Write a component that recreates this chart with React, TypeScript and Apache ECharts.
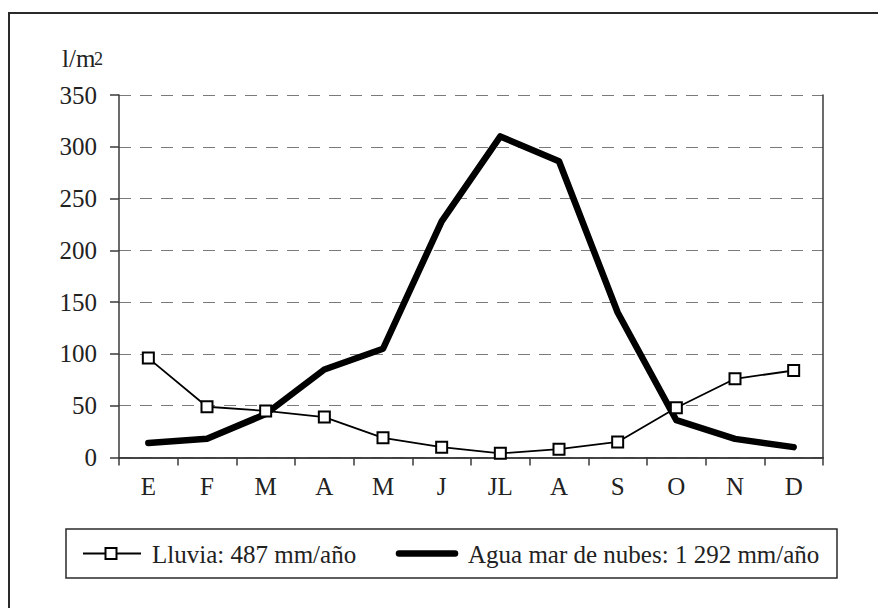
import React, { useEffect, useRef } from "react";
import * as echarts from "echarts";

const months = ["E", "F", "M", "A", "M", "J", "JL", "A", "S", "O", "N", "D"];
const lluvia = [96, 49, 45, 39, 19, 10, 4, 8, 15, 48, 76, 84];
const aguaMarNubes = [14, 18, 42, 85, 105, 228, 310, 286, 140, 36, 18, 10];
const yTicks = { min: 0, max: 350, interval: 50 };
const seriesNames = ["Lluvia: 487 mm/año", "Agua mar de nubes: 1 292 mm/año"];
const yUnit = "l/m";

const FONT = "'Liberation Serif', 'Times New Roman', serif";
const TXT = "#222";
const AXIS = "#3a3a3a";

export default function App() {
  const ref = useRef<HTMLDivElement>(null);
  useEffect(() => {
    if (!ref.current) return;
    const chart = echarts.init(ref.current, null, { renderer: "svg" });
    chart.setOption({
      animation: false,
      backgroundColor: "#fff",
      grid: { left: 119, right: 55, top: 95, bottom: 150.5, containLabel: false },
      xAxis: [
        {
          type: "category",
          data: months,
          boundaryGap: true,
          axisLine: { show: true, lineStyle: { color: AXIS, width: 1.5 } },
          axisTick: { show: true, interval: 0, length: 8, lineStyle: { color: AXIS, width: 1.5 } },
          axisLabel: { interval: 0, fontSize: 25, fontFamily: FONT, color: TXT, margin: 16 },
          splitLine: { show: false },
        },
        {
          type: "category",
          data: months,
          position: "top",
          axisLine: { show: true, lineStyle: { color: AXIS, width: 1.5 } },
          axisTick: { show: false },
          axisLabel: { show: false },
          splitLine: { show: false },
        },
      ],
      yAxis: [
        {
          type: "value",
          min: yTicks.min,
          max: yTicks.max,
          interval: yTicks.interval,
          axisLine: { show: true, lineStyle: { color: AXIS, width: 1.5 } },
          axisTick: { show: true, length: 9, lineStyle: { color: AXIS, width: 1.5 } },
          axisLabel: { fontSize: 25, fontFamily: FONT, color: TXT, margin: 22 },
          splitLine: { show: true, lineStyle: { color: "#7a7a7a", width: 1.2, type: [12, 9] } },
        },
        {
          type: "value",
          position: "right",
          min: yTicks.min,
          max: yTicks.max,
          interval: yTicks.interval,
          axisLine: { show: true, lineStyle: { color: AXIS, width: 1.5 } },
          axisTick: { show: false },
          axisLabel: { show: false },
          splitLine: { show: false },
        },
      ],
      series: [
        {
          name: seriesNames[1],
          type: "line",
          data: aguaMarNubes,
          showSymbol: false,
          symbol: "none",
          lineStyle: { color: "#000", width: 6.5, cap: "round", join: "round" },
          z: 3,
        },
        {
          name: seriesNames[0],
          type: "line",
          data: lluvia,
          symbol: "rect",
          symbolSize: 11,
          itemStyle: { color: "#fff", borderColor: "#000", borderWidth: 2 },
          lineStyle: { color: "#000", width: 1.8 },
          z: 4,
        },
      ],
      graphic: [
        {
          type: "rect",
          shape: { x: 9, y: 13, width: 900, height: 700 },
          style: { fill: "none", stroke: "#2a2a2a", lineWidth: 2 },
          silent: true,
        },
        {
          type: "text",
          x: 62,
          y: 58,
          style: { text: yUnit, font: `25px ${FONT}`, fill: TXT, textVerticalAlign: "middle" },
        },
        {
          type: "text",
          x: 94,
          y: 50,
          style: { text: "2", font: `18px ${FONT}`, fill: TXT, textVerticalAlign: "top" },
        },
        {
          type: "rect",
          shape: { x: 66, y: 529, width: 771, height: 49 },
          style: { fill: "#fff", stroke: "#2a2a2a", lineWidth: 1.5 },
        },
        {
          type: "line",
          shape: { x1: 83, y1: 553.5, x2: 141, y2: 553.5 },
          style: { stroke: "#000", lineWidth: 2 },
        },
        {
          type: "rect",
          shape: { x: 105.5, y: 548, width: 11, height: 11 },
          style: { fill: "#fff", stroke: "#000", lineWidth: 2 },
        },
        {
          type: "text",
          x: 152,
          y: 554,
          style: { text: seriesNames[0], font: `25px ${FONT}`, fill: TXT, textVerticalAlign: "middle" },
        },
        {
          type: "line",
          shape: { x1: 399, y1: 553.5, x2: 455, y2: 553.5 },
          style: { stroke: "#000", lineWidth: 6.5, lineCap: "round" },
        },
        {
          type: "text",
          x: 468,
          y: 554,
          style: { text: seriesNames[1], font: `25px ${FONT}`, fill: TXT, textVerticalAlign: "middle" },
        },
      ],
    });
    return () => chart.dispose();
  }, []);
  return (
    <div
      ref={ref}
      style={{ position: "absolute", left: 0, top: 0, width: 878, height: 608 }}
    />
  );
}
